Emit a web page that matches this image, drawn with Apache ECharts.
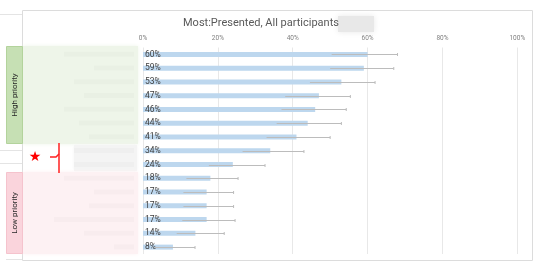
<!DOCTYPE html>
<html><head><meta charset="utf-8">
<script src="https://cdn.jsdelivr.net/npm/echarts@6/dist/echarts.min.js"></script>
<style>html,body{margin:0;padding:0;background:#fff}#c{width:542px;height:270px}</style>
</head><body><div id="c"></div>
<script>
const titleText = "Most:Presented, All participants";
const categories = ["r1","r2","r3","r4","r5","r6","r7","r8","r9","r10","r11","r12","r13","r14","r15"];
const values = [60,59,53,47,46,44,41,34,24,18,17,17,17,14,8];
const errLow = [50.4,50,44.6,38,37,35.7,33,26.6,17.6,11.6,10.8,10.8,10.5,9,3];
const errHigh = [68,67,62,55.4,54.3,53,50,43,32.6,25.4,24.2,24.2,24.6,21.7,13.9];
const xTicks = [0,20,40,60,80,100];
const groupHigh = "High priority";
const groupLow = "Low priority";

const chart = echarts.init(document.getElementById('c'), null, {renderer:'canvas'});
const FONT = 'Roboto';
const smudgeW = [70,40,60,50,70,55,45,60,60,70,40,45,80,50,20];

const graphics = [
  {type:'line', shape:{x1:0,y1:14.5,x2:22,y2:14.5}, style:{stroke:'#e4e4e4',lineWidth:1}, z:-1},
  {type:'line', shape:{x1:0,y1:150.5,x2:22,y2:150.5}, style:{stroke:'#e4e4e4',lineWidth:1}, z:-1},
  {type:'line', shape:{x1:0,y1:163.5,x2:22,y2:163.5}, style:{stroke:'#e4e4e4',lineWidth:1}, z:-1},
  {type:'line', shape:{x1:6,y1:259.5,x2:22,y2:259.5}, style:{stroke:'#e4e4e4',lineWidth:1}, z:-1},
  {type:'rect', shape:{x:22.5,y:10.5,width:510,height:250}, style:{fill:'none',stroke:'#dcdcdc',lineWidth:1}, z:-1},
  {type:'rect', shape:{x:23,y:46,width:115,height:98}, style:{fill:'#eef5e9',shadowBlur:4,shadowColor:'#eef5e9'}, z:-1},
  {type:'rect', shape:{x:74,y:145,width:63,height:26}, style:{fill:'#f4f4f4',shadowBlur:3,shadowColor:'#f4f4f4'}, z:-1},
  {type:'rect', shape:{x:23,y:172,width:115,height:82}, style:{fill:'#fdf1f3',shadowBlur:4,shadowColor:'#fdf1f3'}, z:-1},
  {type:'rect', shape:{x:6.5,y:46.5,width:16,height:97}, style:{fill:'#c6e0b4',stroke:'#b3d39c',lineWidth:1}, z:1},
  {type:'rect', shape:{x:6.5,y:172.5,width:16,height:81}, style:{fill:'#fad4dc',stroke:'#f5c3cd',lineWidth:1}, z:1},
  {type:'text', x:14.5, y:95, rotation:Math.PI/2, style:{text:groupHigh, fill:'#262626', font:'8px '+FONT, align:'center', verticalAlign:'middle'}, z:2},
  {type:'text', x:14.5, y:213, rotation:Math.PI/2, style:{text:groupLow, fill:'#262626', font:'8px '+FONT, align:'center', verticalAlign:'middle'}, z:2},
  {type:'text', x:183, y:23, style:{text:titleText, fill:'#595959', font:'11px '+FONT, verticalAlign:'middle'}, z:2},
  {type:'rect', shape:{x:338,y:16,width:36,height:16}, style:{fill:'#e8e8e8',shadowBlur:6,shadowColor:'#e8e8e8'}, z:1},
  {type:'text', x:35, y:157, style:{text:'★', fill:'#ff0000', font:'14px DejaVu Sans', align:'center', verticalAlign:'middle'}, z:2},
  {type:'polyline', shape:{points:[[59,143],[59,173]]}, style:{stroke:'#ff2020',lineWidth:1.5,fill:null}, z:2},
  {type:'polyline', shape:{points:[[50,157],[56,157],[59,154]]}, style:{stroke:'#ff2020',lineWidth:1.5,fill:null}, z:2},
];
for (let i=0;i<categories.length;i++){
  const y = 54.3 + i*13.76;
  graphics.push({type:'rect', shape:{x:134-smudgeW[i], y:y-2.5, width:smudgeW[i], height:5},
    style:{fill:'rgba(120,120,120,0.035)', shadowBlur:6, shadowColor:'rgba(120,120,120,0.12)'}, z:0});
}

chart.setOption({
  animation:false,
  textStyle:{fontFamily:FONT},
  grid:{left:143, right:24.7, top:47.5, bottom:16, containLabel:false},
  xAxis:{type:'value', position:'top', min:xTicks[0], max:xTicks[xTicks.length-1], interval:20,
    axisLine:{show:false}, axisTick:{show:false},
    axisLabel:{formatter:'{value}%', fontSize:6.5, color:'#7f7f7f', margin:6},
    splitLine:{show:true, lineStyle:{color:'#e8e8e8', width:1}}},
  yAxis:{type:'category', data:categories, inverse:true,
    axisLine:{show:false}, axisTick:{show:false}, axisLabel:{show:false}, splitLine:{show:false}},
  series:[
    {type:'bar', data:values, barWidth:5, itemStyle:{color:'#bdd7ee'},
     label:{show:true, position:'insideLeft', distance:2, formatter:'{c}%', fontSize:8.5, color:'#404040'}, z:2},
    {type:'custom', data:values.map((v,i)=>[i, errLow[i], errHigh[i]]), z:3,
     renderItem:function(params, api){
       const i = api.value(0);
       const a = api.coord([api.value(1), i]);
       const b = api.coord([api.value(2), i]);
       const y = Math.round(a[1])+0.5;
       return {type:'group', children:[
         {type:'line', shape:{x1:a[0],y1:y,x2:b[0],y2:y}, style:{stroke:'#bcbcbc',lineWidth:1}},
         {type:'line', shape:{x1:b[0],y1:y-1.5,x2:b[0],y2:y+1.5}, style:{stroke:'#bcbcbc',lineWidth:1}}
       ]};
     }}
  ],
  graphic:graphics
});
</script></body></html>
